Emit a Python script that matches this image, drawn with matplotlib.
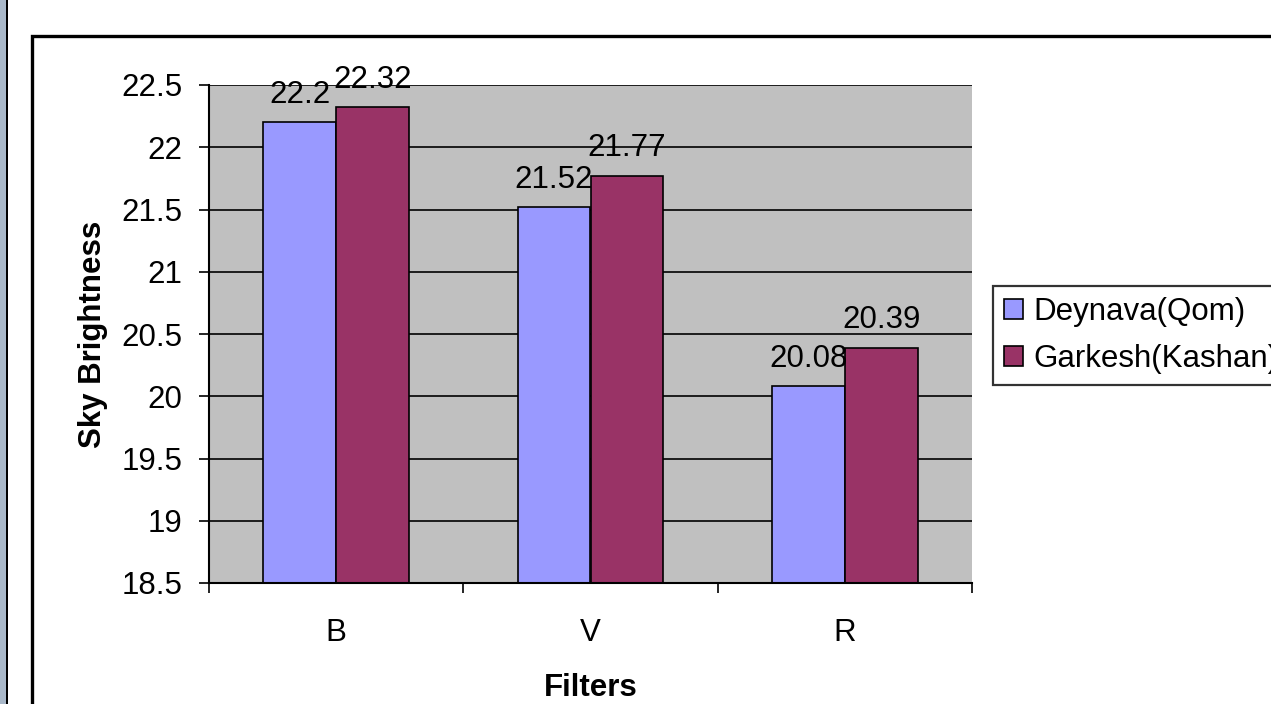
import numpy as np
import matplotlib
matplotlib.use("Agg")
import matplotlib.pyplot as plt
from matplotlib.patches import Rectangle

plt.rcParams['font.family'] = ['Liberation Sans', 'DejaVu Sans']

filters = ["B", "V", "R"]
qom = [22.2, 21.52, 20.08]
kashan = [22.32, 21.77, 20.39]
series_names = ["Deynava(Qom)", "Garkesh(Kashan)"]
yticks = [18.5, 19, 19.5, 20, 20.5, 21, 21.5, 22, 22.5]

FS = 22.5
W, H = 1271, 704
fig = plt.figure(figsize=(W / 100, H / 100), dpi=100)

# window decorations: left strip and outer chart border
fig.patches.append(Rectangle((0, 0), 6 / W, 1, transform=fig.transFigure,
                             facecolor="#a9b8c9", edgecolor="none"))
fig.patches.append(Rectangle((6 / W, 0), 1.5 / W, 1, transform=fig.transFigure,
                             facecolor="black", edgecolor="none"))
fig.patches.append(Rectangle((32 / W, -0.05), 1.1, 1.05 - 36 / H, transform=fig.transFigure,
                             facecolor="none", edgecolor="black", linewidth=2.4))

ax = fig.add_axes([209 / W, (H - 583) / H, 763 / W, 498 / H])
ax.set_facecolor("#c0c0c0")

x = np.arange(len(filters))
bw = 0.287
b1 = ax.bar(x - bw / 2, qom, bw, color="#9999ff", edgecolor="black", linewidth=1.2,
            label=series_names[0], zorder=3)
b2 = ax.bar(x + bw / 2, kashan, bw, color="#993366", edgecolor="black", linewidth=1.2,
            label=series_names[1], zorder=3)
ax.bar_label(b1, labels=[f"{v:g}" for v in qom], padding=9, fontsize=FS)
ax.bar_label(b2, labels=[f"{v:g}" for v in kashan], padding=9, fontsize=FS)

ax.set_ylim(18.5, 22.5)
ax.set_xlim(-0.5, 2.5)
ax.set_yticks(yticks)
ax.set_yticklabels([f"{v:g}" for v in yticks], fontsize=FS)
ax.yaxis.grid(True, color="black", linewidth=1.2, zorder=1)
ax.set_axisbelow(True)

ax.set_xticks(x)
ax.set_xticklabels(filters, fontsize=FS)
ax.set_xticks([-0.5, 0.5, 1.5, 2.5], minor=True)
ax.tick_params(axis="x", which="major", length=0, pad=25)
ax.tick_params(axis="x", which="minor", length=7, width=1.2, direction="out")
ax.tick_params(axis="y", length=7, width=1.2, direction="out", pad=12)

for s in ["top", "right"]:
    ax.spines[s].set_visible(False)
for s in ["left", "bottom"]:
    ax.spines[s].set_linewidth(1.5)
    ax.spines[s].set_zorder(4)

ax.set_ylabel("Sky Brightness", fontsize=FS, fontweight="bold", labelpad=10)
ax.set_xlabel("Filters", fontsize=FS, fontweight="bold", labelpad=18)

# legend runs off the right edge, as in the original
leg = fig.legend(loc="upper left", bbox_to_anchor=(993 / W, 1 - 286 / H),
                 fontsize=FS, frameon=True, fancybox=False, edgecolor="black",
                 handlelength=0.6, handleheight=0.6, handletextpad=0.35,
                 borderpad=0.35, labelspacing=0.55, borderaxespad=0)
leg.get_frame().set_linewidth(1.6)

fig.savefig("out.png", dpi=100)
